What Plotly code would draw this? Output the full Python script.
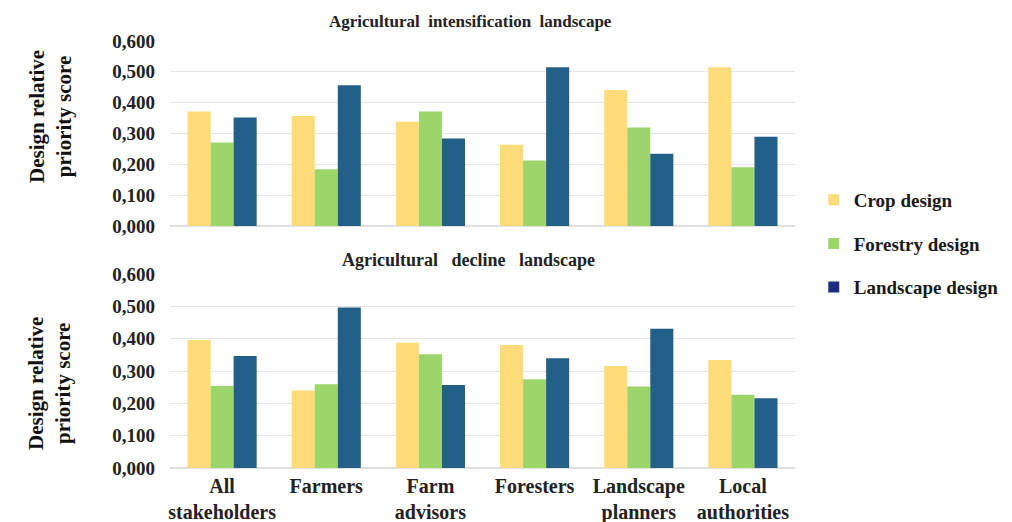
import plotly.graph_objects as go
from plotly.subplots import make_subplots

categories = ["All<br>stakeholders", "Farmers", "Farm<br>advisors", "Foresters",
              "Landscape<br>planners", "Local<br>authorities"]
series_names = ["Crop design", "Forestry design", "Landscape design"]

intens_crop = [0.371, 0.357, 0.338, 0.263, 0.441, 0.515]
intens_forestry = [0.271, 0.184, 0.371, 0.212, 0.319, 0.190]
intens_landscape = [0.352, 0.456, 0.284, 0.515, 0.234, 0.289]

decline_crop = [0.396, 0.240, 0.388, 0.381, 0.316, 0.334]
decline_forestry = [0.254, 0.259, 0.352, 0.275, 0.252, 0.227]
decline_landscape = [0.347, 0.497, 0.257, 0.340, 0.431, 0.216]

y_ticks = [0.0, 0.1, 0.2, 0.3, 0.4, 0.5, 0.6]

bar_colors = ["#FFDB79", "#9CD66A", "#22608A"]
legend_colors = ["#FFDB79", "#9CD66A", "#1B2F80"]

FONT = "Liberation Serif"

fig = make_subplots(rows=2, cols=1, shared_xaxes=False, vertical_spacing=0.1)

for vals, col in zip([intens_crop, intens_forestry, intens_landscape], bar_colors):
    fig.add_trace(go.Bar(x=categories, y=vals, marker=dict(color=col, line=dict(width=0)),
                         showlegend=False), row=1, col=1)
for vals, col in zip([decline_crop, decline_forestry, decline_landscape], bar_colors):
    fig.add_trace(go.Bar(x=categories, y=vals, marker=dict(color=col, line=dict(width=0)),
                         showlegend=False), row=2, col=1)

for i, (name, col) in enumerate(zip(series_names, legend_colors)):
    fig.add_trace(go.Scatter(x=[None], y=[None], mode="markers", name=f"<b>{name}</b>",
                             legendgroup=f"g{i}",
                             marker=dict(symbol="square", size=11, color=col)),
                  row=1, col=1)

fig.update_layout(
    width=1012, height=522,
    margin=dict(l=162, r=225, t=33, b=62),
    plot_bgcolor="white", paper_bgcolor="white",
    barmode="group", bargap=0.336, bargroupgap=0,
    separators=", ",
    font=dict(family=FONT, color="#222222"),
    legend=dict(x=1.03, y=0.525, xanchor="left", yanchor="middle",
                font=dict(family=FONT, size=19, color="#1a1a1a"),
                tracegroupgap=16, itemwidth=30),
)

fig.update_layout(
    yaxis=dict(domain=[0.567, 1.0]),
    yaxis2=dict(domain=[0.0, 0.454]),
)

for r in (1, 2):
    fig.update_yaxes(range=[0, 0.6], tickvals=y_ticks, tickformat=".3f", automargin=False,
                     showgrid=True, gridcolor="#E6E6E6", gridwidth=1,
                     zeroline=True, zerolinecolor="#E0E0E0", showline=False,
                     ticks="", ticklabelstandoff=14,
                     tickfont=dict(family=FONT, size=19, color="#222222", weight="bold"),
                     row=r, col=1)
    fig.update_xaxes(showgrid=False, showline=False, ticks="", ticklabelstandoff=4,
                     automargin=False,
                     tickfont=dict(family=FONT, size=20, color="#222222", weight="bold"),
                     row=r, col=1)

fig.update_xaxes(showticklabels=False, row=1, col=1)

for ypos in (0.822, 0.197):
    fig.add_annotation(text="<b>Design relative<br>priority score</b>", xref="paper", yref="paper",
                       x=-0.192, y=ypos, textangle=-90, showarrow=False,
                       xanchor="center", yanchor="middle",
                       font=dict(family=FONT, size=21, color="#111111"))

fig.add_annotation(text="<b>Agricultural  intensification  landscape</b>", xref="paper", yref="paper",
                   x=0.48, y=1.0445, yanchor="middle", showarrow=False,
                   font=dict(family=FONT, size=17, color="#222222"))
fig.add_annotation(text="<b>Agricultural   decline   landscape</b>", xref="paper", yref="paper",
                   x=0.478, y=0.487, yanchor="middle", showarrow=False,
                   font=dict(family=FONT, size=18, color="#222222"))

fig.write_html("out.html")
